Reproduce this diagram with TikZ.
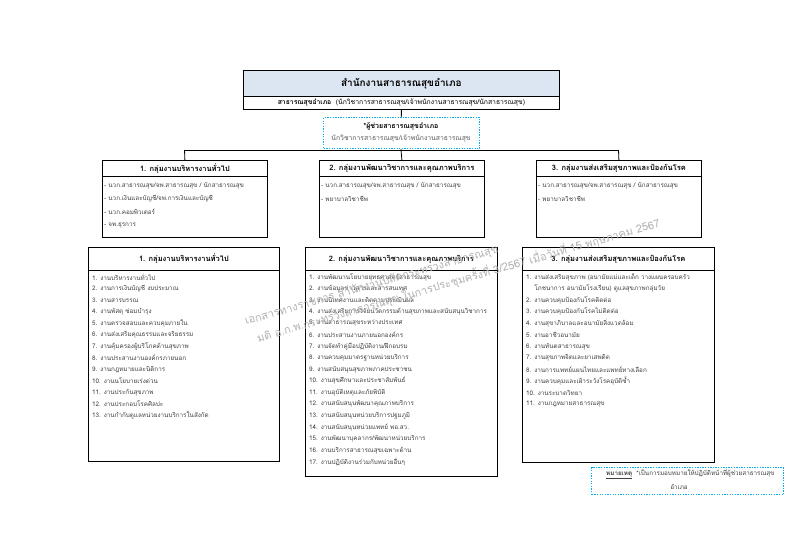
\documentclass[tikz,border=0pt]{standalone}
\usepackage{fontspec}
\setmainfont[Script=Thai]{Loma}
\definecolor{hdrblue}{HTML}{DCE6F2}
\definecolor{dotcyan}{HTML}{00B0F0}
\definecolor{itemgray}{HTML}{404040}
\begin{document}
\begin{tikzpicture}[x=1pt,y=-1pt,
  box/.style={draw=black, line width=0.8pt, inner sep=0, anchor=north west, fill=white},
  hdr/.style={font=\bfseries\fontsize{7.5}{9}\selectfont},
  itm/.style={font=\fontsize{6.3}{8}\selectfont, text=itemgray, anchor=west, inner sep=0},
  dotbox/.style={draw=dotcyan, line width=1.4pt, dash pattern=on 1.3pt off 1.3pt, inner sep=0, anchor=north west, fill=white},
  wm/.style={font=\fontsize{11}{13}\selectfont, text=black!30, anchor=west, inner sep=0, rotate=16},
  conn/.style={draw=black, line width=0.8pt}]
\useasboundingbox (0,0) rectangle (799,550);

% connectors
\coordinate (bus) at (401,150);
\coordinate (bus1) at (184.5,150);
\coordinate (bus3) at (618.5,150);

% top box
\node[box, fill=hdrblue, minimum width=316pt, minimum height=26pt, font=\bfseries\fontsize{10}{12}\selectfont] (toptitle) at (243,70) {สำนักงานสาธารณสุขอำเภอ};
\node[box, minimum width=316pt, minimum height=13pt, font=\fontsize{6.8}{8}\selectfont] (toprole) at (243,96) {\textbf{สาธารณสุขอำเภอ}\ \ (นักวิชาการสาธารณสุข/เจ้าพนักงานสาธารณสุข/นักสาธารณสุข)};

\draw[conn] (toprole.south) -- (bus);
\draw[conn] (bus1) -- (bus3);

% assistant dotted box
\node[dotbox, minimum width=156pt, minimum height=31pt] (assist) at (323,117) {};
\node[font=\bfseries\fontsize{7}{8}\selectfont, inner sep=0] (assistt) at (401,126) {*ผู้ช่วยสาธารณสุขอำเภอ};
\node[font=\fontsize{6.8}{8}\selectfont, text=black!65, inner sep=0] (assistr) at (401,139) {นักวิชาการสาธารณสุข/เจ้าพนักงานสาธารณสุข};

% group boxes
\node[box, hdr, minimum width=165pt, minimum height=16pt] (g1h) at (102,160) {1. กลุ่มงานบริหารงานทั่วไป};
\node[box, minimum width=165pt, minimum height=61pt] (g1b) at (102,176) {};
\node[box, hdr, minimum width=165pt, minimum height=16pt] (g2h) at (319,160) {2. กลุ่มงานพัฒนาวิชาการและคุณภาพบริการ};
\node[box, minimum width=165pt, minimum height=61pt] (g2b) at (319,176) {};
\node[box, hdr, minimum width=165pt, minimum height=16pt] (g3h) at (536,160) {3. กลุ่มงานส่งเสริมสุขภาพและป้องกันโรค};
\node[box, minimum width=165pt, minimum height=61pt] (g3b) at (536,176) {};

\draw[conn] (bus1) -- (g1h.north);
\draw[conn] (bus) -- (g2h.north);
\draw[conn] (bus3) -- (g3h.north);

\foreach \t [count=\i] in {- นวก.สาธารณสุข/จพ.สาธารณสุข / นักสาธารณสุข, - นวก.เงินและบัญชี/จพ.การเงินและบัญชี, - นวก.คอมพิวเตอร์, - จพ.ธุรการ}
  \node[itm] (g1i\i) at (104,{185.5+13.3*(\i-1)}) {\t};
\foreach \t [count=\i] in {- นวก.สาธารณสุข/จพ.สาธารณสุข / นักสาธารณสุข, - พยาบาลวิชาชีพ}
  \node[itm] (g2i\i) at (321,{185.5+13.3*(\i-1)}) {\t};
\foreach \t [count=\i] in {- นวก.สาธารณสุข/จพ.สาธารณสุข / นักสาธารณสุข, - พยาบาลวิชาชีพ}
  \node[itm] (g3i\i) at (538,{185.5+13.3*(\i-1)}) {\t};

% list boxes
\node[box, hdr, minimum width=191pt, minimum height=23pt] (l1h) at (88,247) {1. กลุ่มงานบริหารงานทั่วไป};
\node[box, minimum width=191pt, minimum height=191pt] (l1b) at (88,270) {};
\node[box, hdr, minimum width=192pt, minimum height=23pt] (l2h) at (305,247) {2. กลุ่มงานพัฒนาวิชาการและคุณภาพบริการ};
\node[box, minimum width=192pt, minimum height=206pt] (l2b) at (305,270) {};
\node[box, hdr, minimum width=192pt, minimum height=23pt] (l3h) at (522,247) {3. กลุ่มงานส่งเสริมสุขภาพและป้องกันโรค};
\node[box, minimum width=192pt, minimum height=192pt] (l3b) at (522,270) {};

\foreach \t [count=\i] in {1. งานบริหารงานทั่วไป, 2. งานการเงินบัญชี งบประมาณ, 3. งานสารบรรณ, 4. งานพัสดุ ซ่อมบำรุง, 5. งานตรวจสอบและควบคุมภายใน, 6. งานส่งเสริมคุณธรรมและจริยธรรม, 7. งานคุ้มครองผู้บริโภคด้านสุขภาพ, 8. งานประสานงานองค์กรภายนอก, 9. งานกฎหมายและนิติการ, 10. งานนโยบายเร่งด่วน, 11. งานประกันสุขภาพ, 12. งานประกอบโรคศิลปะ, 13. งานกำกับดูแลหน่วยงานบริการในสังกัด}
  \node[itm] (l1i\i) at (92,{277+11.55*(\i-1)}) {\t};
\foreach \t [count=\i] in {1. งานพัฒนานโยบายยุทธศาสตร์สาธารณสุข, 2. งานข้อมูลข่าวสารและสารสนเทศ, 3. งานนิเทศงานและติดตามประเมินผล, 4. งานส่งเสริมการวิจัยนวัตกรรมด้านสุขภาพและสนับสนุนวิชาการ, 5. งานสาธารณสุขระหว่างประเทศ, 6. งานประสานงานภายนอกองค์กร, 7. งานจัดทำคู่มือปฏิบัติงาน/ฝึกอบรม, 8. งานควบคุมมาตรฐานหน่วยบริการ, 9. งานสนับสนุนสุขภาพภาคประชาชน, 10. งานสุขศึกษาและประชาสัมพันธ์, 11. งานอุบัติเหตุและภัยพิบัติ, 12. งานสนับสนุนพัฒนาคุณภาพบริการ, 13. งานสนับสนุนหน่วยบริการปฐมภูมิ, 14. งานสนับสนุนหน่วยแพทย์ พอ.สว., 15. งานพัฒนาบุคลากร/พัฒนาหน่วยบริการ, 16. งานบริการสาธารณสุขเฉพาะด้าน, 17. งานปฏิบัติงานร่วมกับหน่วยอื่นๆ}
  \node[itm] (l2i\i) at (309,{277+11.55*(\i-1)}) {\t};
\foreach \t [count=\i] in {1. งานส่งเสริมสุขภาพ (อนามัยแม่และเด็ก วางแผนครอบครัว, \phantom{1. }โภชนาการ อนามัยโรงเรียน) ดูแลสุขภาพกลุ่มวัย, 2. งานควบคุมป้องกันโรคติดต่อ, 3. งานควบคุมป้องกันโรคไม่ติดต่อ, 4. งานสุขาภิบาลและอนามัยสิ่งแวดล้อม, 5. งานอาชีวอนามัย, 6. งานทันตสาธารณสุข, 7. งานสุขภาพจิตและยาเสพติด, 8. งานการแพทย์แผนไทยและแพทย์ทางเลือก, 9. งานควบคุมและเฝ้าระวังโรคอุบัติซ้ำ, 10. งานระบาดวิทยา, 11. งานกฎหมายสาธารณสุข}
  \node[itm] (l3i\i) at (526,{277+11.55*(\i-1)}) {\t};

% note box
\node[dotbox, minimum width=192pt, minimum height=27pt] (note) at (591,467) {};
\node[font=\fontsize{6.3}{8}\selectfont, text=itemgray, anchor=west, inner sep=0] (notel1) at (606,474) {\textbf{\underline{หมายเหตุ}}\ \ *เป็นการมอบหมายให้ปฏิบัติหน้าที่ผู้ช่วยสาธารณสุข};
\node[font=\fontsize{6.3}{8}\selectfont, text=itemgray, inner sep=0] (notel2) at (679,487) {อำเภอ};

% watermark (on top, as in the reference)
\node[wm] (wm1) at (245,322) {เอกสารทางราชการ สำนักงานปลัดกระทรวงสาธารณสุข};
\node[wm] (wm2) at (257,338) {มติ อ.ก.พ.กระทรวงสาธารณสุข ในการประชุมครั้งที่ 3/2567 เมื่อวันที่ 15 พฤษภาคม 2567};
\end{tikzpicture}
\end{document}
